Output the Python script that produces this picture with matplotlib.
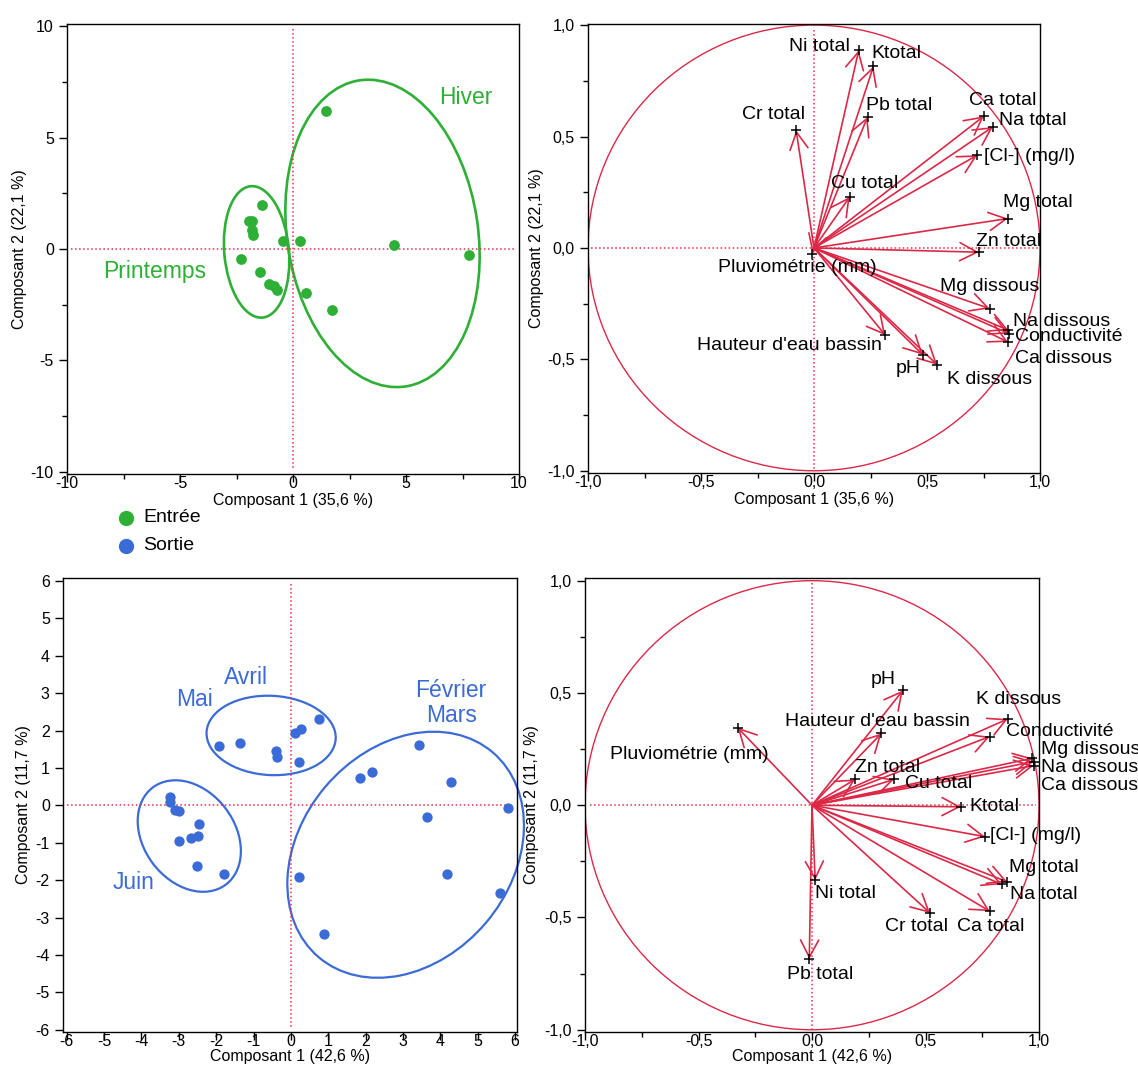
import matplotlib
matplotlib.use("Agg")
import matplotlib.pyplot as plt
from matplotlib.patches import Ellipse, Circle
from matplotlib.lines import Line2D

plt.rcParams['font.family'] = ['Liberation Sans', 'DejaVu Sans']
plt.rcParams['axes.unicode_minus'] = False

GREEN = '#2eaf36'
BLUE = '#3b6bd6'
RED = '#dc2847'
DOT = '#e8304e'

# --- individus, entree (ACP 1)
entree_x = [1.46, -1.36, -1.96, -1.80, -1.80, -1.77, -0.43, 0.30, 4.48, 7.80,
            -2.28, -1.46, -1.08, -0.82, -0.69, 0.58, 1.74]
entree_y = [6.20, 1.96, 1.24, 1.24, 0.87, 0.64, 0.37, 0.36, 0.16, -0.28,
            -0.46, -1.03, -1.55, -1.67, -1.84, -1.97, -2.72]

# --- individus, sortie (ACP 2)
sortie_x = [0.75, 0.27, 0.11, 0.21, -0.41, -0.36, -1.35, -1.92,
            -3.24, -3.24, -3.11, -2.99, -2.47, -2.67, -2.48, -3.00, -2.52, -1.79,
            3.43, 1.86, 2.18, 4.28, 5.81, 3.64, 4.17, 0.22, 5.59, 0.89]
sortie_y = [2.31, 2.04, 1.93, 1.16, 1.46, 1.30, 1.67, 1.60,
            0.23, 0.09, -0.12, -0.16, -0.49, -0.87, -0.81, -0.96, -1.63, -1.84,
            1.62, 0.73, 0.89, 0.63, -0.06, -0.32, -1.84, -1.91, -2.33, -3.43]

# --- cercle des correlations, entree
vars1 = ['Ni total', 'Ktotal', 'Pb total', 'Cr total', 'Ca total', 'Na total',
         '[Cl-] (mg/l)', 'Cu total', 'Mg total', 'Zn total', 'Pluviométrie (mm)',
         'Mg dissous', 'Na dissous', 'Conductivité', 'Ca dissous',
         "Hauteur d'eau bassin", 'pH', 'K dissous']
v1_x = [0.198, 0.263, 0.237, -0.079, 0.751, 0.791, 0.722, 0.158, 0.858, 0.729,
        -0.007, 0.777, 0.860, 0.862, 0.858, 0.316, 0.481, 0.545]
v1_y = [0.887, 0.815, 0.588, 0.528, 0.591, 0.543, 0.416, 0.229, 0.132, -0.019,
        -0.025, -0.272, -0.369, -0.384, -0.422, -0.392, -0.479, -0.524]
lab1_x = [-0.112, 0.253, 0.232, -0.318, 0.688, 0.820, 0.751, 0.077, 0.837, 0.717,
          -0.426, 0.557, 0.880, 0.889, 0.889, -0.518, 0.361, 0.588]
lab1_y = [0.905, 0.872, 0.640, 0.598, 0.663, 0.570, 0.411, 0.289, 0.203, 0.031,
          -0.088, -0.175, -0.328, -0.399, -0.497, -0.440, -0.539, -0.591]

# --- cercle des correlations, sortie
vars2 = ['pH', 'K dissous', "Hauteur d'eau bassin", 'Conductivité', 'Pluviométrie (mm)',
         'Mg dissous', 'Na dissous', 'Ca dissous', 'Zn total', 'Cu total', 'Ktotal',
         '[Cl-] (mg/l)', 'Mg total', 'Na total', 'Ca total', 'Cr total', 'Ni total', 'Pb total']
v2_x = [0.400, 0.862, 0.306, 0.783, -0.328, 0.971, 0.976, 0.976, 0.190, 0.361, 0.656,
        0.762, 0.860, 0.836, 0.783, 0.520, 0.014, -0.012]
v2_y = [0.511, 0.384, 0.320, 0.306, 0.346, 0.209, 0.194, 0.176, 0.115, 0.115, -0.007,
        -0.140, -0.341, -0.352, -0.472, -0.480, -0.334, -0.685]
lab2_x = [0.258, 0.723, -0.121, 0.856, -0.891, 1.010, 1.007, 1.010, 0.190, 0.409, 0.694,
          0.785, 0.868, 0.874, 0.639, 0.321, 0.014, -0.109]
lab2_y = [0.561, 0.472, 0.375, 0.327, 0.226, 0.249, 0.169, 0.089, 0.169, 0.097, -0.007,
          -0.135, -0.277, -0.398, -0.540, -0.540, -0.391, -0.755]

W, H = 1138, 1065
fig = plt.figure(figsize=(W / 100, H / 100), dpi=100)


def px_axes(l, t, r, b):
    return fig.add_axes([l / W, 1 - b / H, (r - l) / W, (b - t) / H])


def style(ax, xlim, ylim, xt, yt, xlab, ylab, xminor=None, yminor=None, fmt=None):
    ax.set_xlim(*xlim)
    ax.set_ylim(*ylim)
    ax.set_xticks(xt)
    ax.set_yticks(yt)
    if fmt:
        ax.set_xticklabels([fmt(v) for v in xt])
        ax.set_yticklabels([fmt(v) for v in yt])
    if xminor is not None:
        ax.set_xticks(xminor, minor=True)
    if yminor is not None:
        ax.set_yticks(yminor, minor=True)
    ax.tick_params(axis='both', which='major', direction='out', length=6, width=1,
                   labelsize=11.5)
    ax.tick_params(axis='both', which='minor', direction='out', length=3.5, width=1)
    ax.tick_params(axis='x', which='major', pad=-4.5)
    ax.tick_params(axis='y', which='major', pad=3.5)
    for s in ax.spines.values():
        s.set_linewidth(1.0)
    ax.set_xlabel(xlab, fontsize=11.5)
    ax.set_ylabel(ylab, fontsize=11.5)
    ax.xaxis.label.set_verticalalignment('center')
    ax.yaxis.label.set_verticalalignment('center')


def comma(v):
    return ('%.1f' % v).replace('.', ',')


def refs(ax, xa, xb, ya, yb):
    ax.plot([xa, xb], [0, 0], ls=':', color=DOT, lw=1.1)
    ax.plot([0, 0], [ya, yb], ls=':', color=DOT, lw=1.1)


def vectors(ax, xs, ys, names, lx, ly):
    ax.add_patch(Circle((0, 0), 1.0, fill=False, ec=RED, lw=1.0))
    for x, y in zip(xs, ys):
        ax.annotate('', xy=(x, y), xytext=(0, 0),
                    arrowprops=dict(arrowstyle='->,head_length=0.95,head_width=0.5',
                                    color=RED, lw=1.2, shrinkA=0, shrinkB=0,
                                    mutation_scale=13))
    ax.plot(xs, ys, '+', color='black', ms=7, mew=1.1, zorder=5)
    for n, x, y in zip(names, lx, ly):
        ax.text(x, y, n, fontsize=14, ha='left', va='center', color='black')


# ---------- haut gauche : individus entree
ax1 = px_axes(67, 24, 519, 474)
refs(ax1, -9.84, 9.8, 9.87, -9.9)
ax1.add_patch(Ellipse((-1.61, -0.13), 5.92, 2.86, angle=-85, fill=False, ec=GREEN, lw=1.9))
ax1.add_patch(Ellipse((3.96, 0.70), 13.89, 8.45, angle=-81.7, fill=False, ec=GREEN, lw=1.9))
ax1.scatter(entree_x, entree_y, s=60, color=GREEN, zorder=4, linewidths=0)
ax1.text(6.46, 6.8, 'Hiver', color=GREEN, fontsize=16.5, ha='left', va='center')
ax1.text(-8.39, -0.99, 'Printemps', color=GREEN, fontsize=16.5, ha='left', va='center')
style(ax1, (-10, 10), (-10.1, 10.1), [-10, -5, 0, 5, 10], [-10, -5, 0, 5, 10],
      'Composant 1 (35,6 %)', 'Composant 2 (22,1 %)',
      xminor=[-7.5, -2.5, 2.5, 7.5], yminor=[-7.5, -2.5, 2.5, 7.5])
ax1.xaxis.set_label_coords(0.5, -0.058)
ax1.yaxis.set_label_coords(-0.106, 0.5)

# ---------- haut droite : variables entree
ax2 = px_axes(588, 24, 1040, 473)
refs(ax2, -0.985, 0.99, 0.98, -1.0)
vectors(ax2, v1_x, v1_y, vars1, lab1_x, lab1_y)
ticks = [-1.0, -0.5, 0.0, 0.5, 1.0]
minors = [-0.75, -0.25, 0.25, 0.75]
style(ax2, (-1.0, 1.0), (-1.01, 1.005), ticks, ticks,
      'Composant 1 (35,6 %)', 'Composant 2 (22,1 %)',
      xminor=minors, yminor=minors, fmt=comma)
ax2.xaxis.set_label_coords(0.5, -0.058)
ax2.yaxis.set_label_coords(-0.115, 0.5)

# ---------- bas gauche : individus sortie
ax3 = px_axes(63, 578, 517, 1032)
refs(ax3, -6.0, 5.8, 5.93, -5.97)
ax3.add_patch(Ellipse((-0.53, 1.87), 3.46, 2.12, angle=-3, fill=False, ec=BLUE, lw=1.6))
ax3.add_patch(Ellipse((-2.72, -0.82), 3.25, 2.44, angle=-53, fill=False, ec=BLUE, lw=1.6))
ax3.add_patch(Ellipse((3.07, -1.32), 7.19, 5.63, angle=49.6, fill=False, ec=BLUE, lw=1.6,
                      clip_on=False))
ax3.scatter(sortie_x, sortie_y, s=55, color=BLUE, zorder=4, linewidths=0)
ax3.text(-1.80, 3.43, 'Avril', color=BLUE, fontsize=16.5, ha='left', va='center')
ax3.text(-3.06, 2.82, 'Mai', color=BLUE, fontsize=16.5, ha='left', va='center')
ax3.text(4.29, 3.06, 'Février', color=BLUE, fontsize=16.5, ha='center', va='center')
ax3.text(4.29, 2.40, 'Mars', color=BLUE, fontsize=16.5, ha='center', va='center')
ax3.text(-4.76, -2.07, 'Juin', color=BLUE, fontsize=16.5, ha='left', va='center')
st = list(range(-6, 7))
style(ax3, (-6.1, 6.05), (-6.06, 6.08), st, st,
      'Composant 1 (42,6 %)', 'Composant 2 (11,7 %)')
ax3.xaxis.set_label_coords(0.5, -0.055)
ax3.yaxis.set_label_coords(-0.088, 0.5)

# ---------- bas droite : variables sortie
ax4 = px_axes(585, 578, 1039, 1032)
refs(ax4, -0.98, 0.985, 0.99, -1.0)
vectors(ax4, v2_x, v2_y, vars2, lab2_x, lab2_y)
style(ax4, (-1.0, 1.0), (-1.01, 1.012), ticks, ticks,
      'Composant 1 (42,6 %)', 'Composant 2 (11,7 %)',
      xminor=minors, yminor=minors, fmt=comma)
ax4.xaxis.set_label_coords(0.5, -0.055)
ax4.yaxis.set_label_coords(-0.117, 0.5)

# ---------- legende
for lab, col, yy in [('Entrée', GREEN, 518), ('Sortie', BLUE, 546)]:
    fig.add_artist(Line2D([126 / W], [1 - yy / H], transform=fig.transFigure,
                          marker='o', ls='', color=col, ms=11, mew=0))
    fig.text(143 / W, 1 - yy / H, lab, fontsize=14, ha='left', va='center')

fig.savefig('out.png', dpi=100)
